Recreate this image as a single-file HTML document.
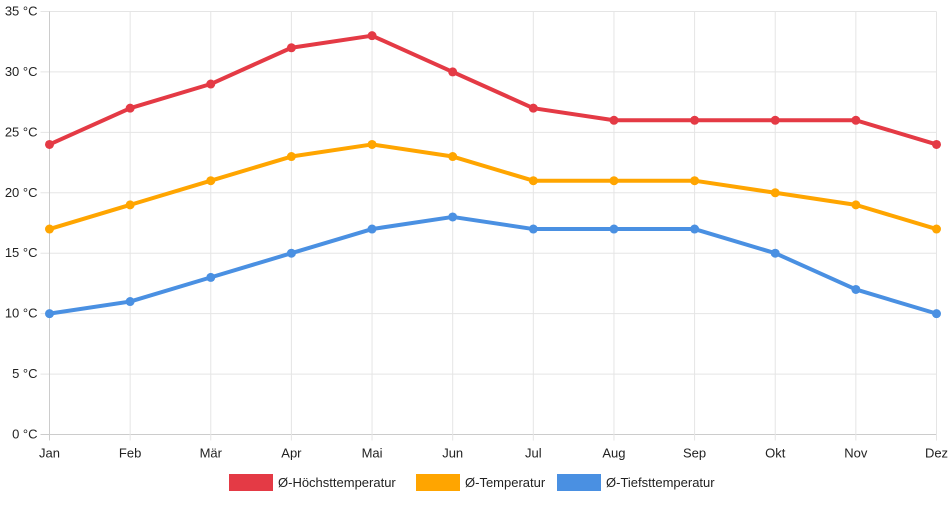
<!DOCTYPE html>
<html><head><meta charset="utf-8"><style>
body{margin:0;background:#fff;font-family:"Liberation Sans",Arial,sans-serif}
svg text{font-family:"Liberation Sans",Arial,sans-serif;font-size:13px;fill:#222}
</style></head><body>
<svg id="c" width="952" height="500" viewBox="0 0 952 500"></svg>
<script>
const months=["Jan","Feb","Mär","Apr","Mai","Jun","Jul","Aug","Sep","Okt","Nov","Dez"];
const high=[24,27,29,32,33,30,27,26,26,26,26,24];
const avg=[17,19,21,23,24,23,21,21,21,20,19,17];
const low=[10,11,13,15,17,18,17,17,17,15,12,10];
const yTicks=[0,5,10,15,20,25,30,35];
const seriesNames=["Ø-Höchsttemperatur","Ø-Temperatur","Ø-Tiefsttemperatur"];
const colors=["#e43a45","#ffa500","#4a90e2"];
const L=49.5,R=936.5,T=11.5,B=434.5;
const x=i=>L+i*(R-L)/(months.length-1);
const y=v=>B-(v/35)*(B-T);
const svg=document.getElementById('c');const NS="http://www.w3.org/2000/svg";
function mk(t,a,p){const e=document.createElementNS(NS,t);for(const k in a)e.setAttribute(k,a[k]);(p||svg).appendChild(e);return e;}
const grid=mk('g',{});


yTicks.forEach(v=>{
 mk('line',{x1:L-9,x2:R,y1:y(v),y2:y(v),stroke:v===0?'#ccc':'#e5e5e5','stroke-width':1},grid);
 const t=mk('text',{x:L-12,y:y(v)+4,'text-anchor':'end'});t.textContent=v+" °C";
 
 
});
months.forEach((m,i)=>{
 mk('line',{x1:x(i),x2:x(i),y1:T,y2:B+6,stroke:i===0?'#ccc':'#e5e5e5','stroke-width':1},grid);
 const t=mk('text',{x:x(i),y:B+23,'text-anchor':'middle'});t.textContent=m;
 
 
});
[high,avg,low].forEach((d,s)=>{
 const g=mk('g',{});
 
 
 mk('polyline',{points:d.map((v,i)=>x(i)+","+y(v)).join(" "),fill:'none',stroke:colors[s],'stroke-width':4,'stroke-linejoin':'round'},g);
 d.forEach((v,i)=>{const c=mk('circle',{cx:x(i),cy:y(v),r:4.5,fill:colors[s]},g);
  
  });
});
const lg=mk('g',{});


const lx=[229,416,557];
seriesNames.forEach((n,s)=>{
 const r=mk('rect',{x:lx[s],y:474,width:44,height:17,fill:colors[s]},lg);
 
 
 const t=mk('text',{x:lx[s]+49,y:487},lg);t.textContent=n;
 
 
});
</script>
</body></html>
